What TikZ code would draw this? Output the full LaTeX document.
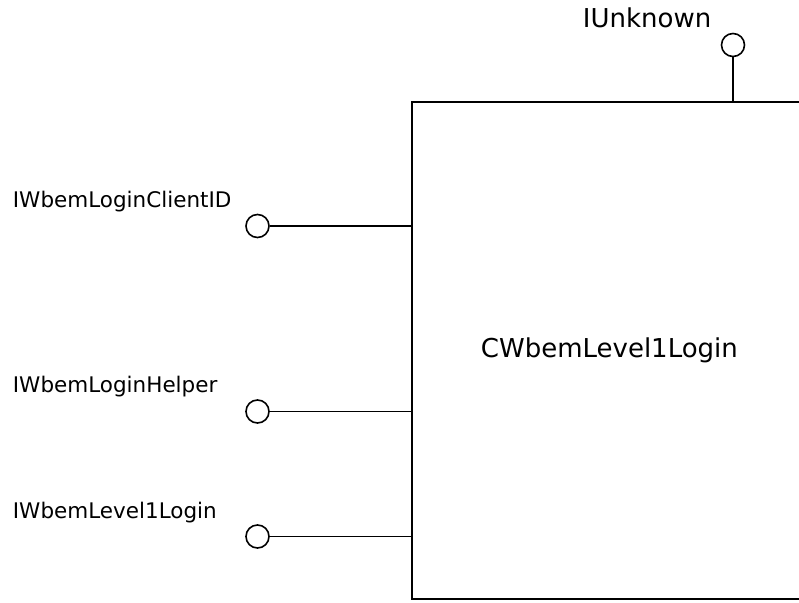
\documentclass[tikz,border=0pt]{standalone}
\usepackage{fontspec}
\setmainfont{DejaVu Sans}
\begin{document}
\begin{tikzpicture}[x=1pt,y=-1pt,
  line width=1.8pt,
  lollipop/.style={draw, circle, minimum size=23pt, inner sep=0pt, fill=white, line width=1.6pt},
  lbl/.style={inner sep=0pt, anchor=base west, font=\fontsize{21.5}{25}\selectfont},
  wire/.style={draw, line width=1.8pt}]
\useasboundingbox (0,0) rectangle (799,602);
\clip (0,0) rectangle (799,602);
\node[draw, minimum width=420pt, minimum height=497pt, inner sep=0pt, anchor=north west] (box) at (411,101) {};
\node[inner sep=0pt, anchor=base west, font=\fontsize{26}{30}\selectfont] (title) at (480,357) {CWbemLevel1Login};
% IUnknown
\node[lollipop] (cu) at (733,45) {};
\coordinate (tu) at (733,101);
\draw[wire] (cu) -- (tu);
\node[inner sep=0pt, anchor=base west, font=\fontsize{26}{30}\selectfont] (lu) at (582,28) {IUnknown};
% left interfaces
\node[lollipop] (c1) at (257.5,226) {};
\coordinate (t1) at (411,226);
\draw[wire] (c1) -- (t1);
\node[lbl] (l1) at (12,207) {IWbemLoginClientID};
\node[lollipop] (c2) at (257.5,411.5) {};
\coordinate (t2) at (411,411.5);
\draw[wire] (c2) -- (t2);
\node[lbl] (l2) at (12,392) {IWbemLoginHelper};
\node[lollipop] (c3) at (257.5,536.5) {};
\coordinate (t3) at (411,536.5);
\draw[wire] (c3) -- (t3);
\node[lbl] (l3) at (12,518) {IWbemLevel1Login};
\end{tikzpicture}
\end{document}
